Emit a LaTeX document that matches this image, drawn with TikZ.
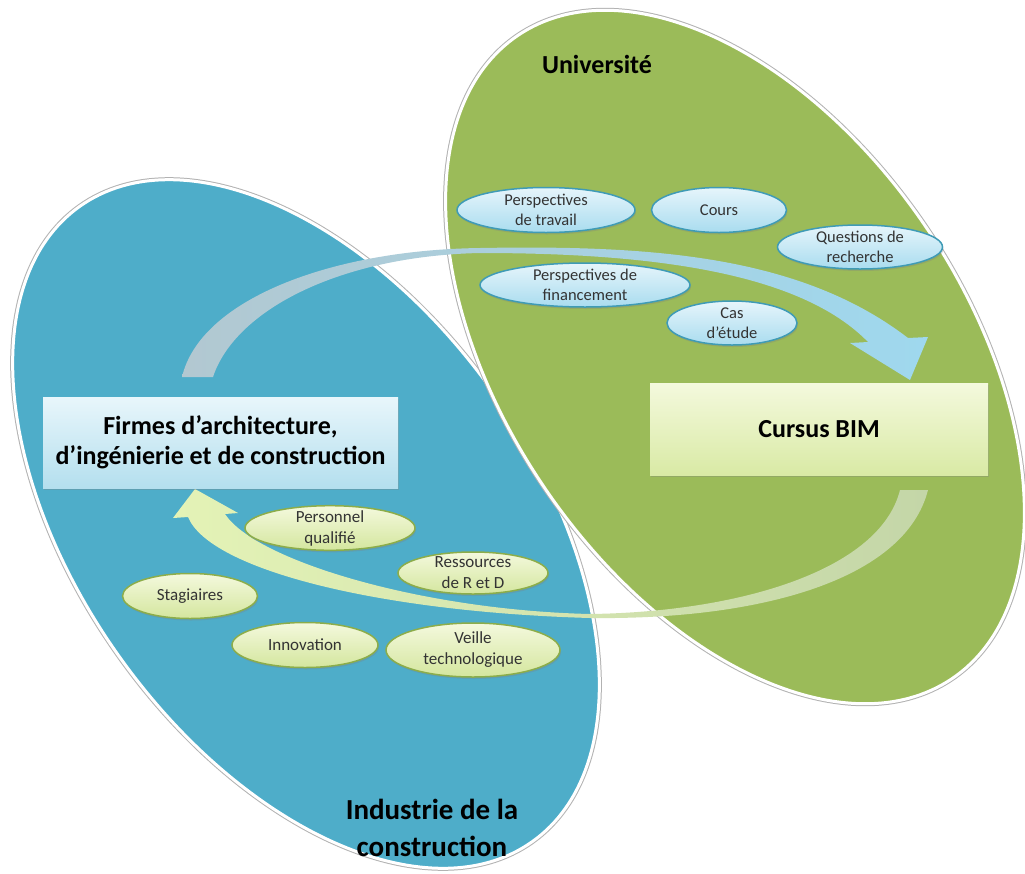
\documentclass[tikz,border=0pt]{standalone}
\usepackage{fontspec}
\setmainfont{Carlito}
\usetikzlibrary{shapes.geometric,shadows,positioning}

\definecolor{indblue}{HTML}{4EADC9}
\definecolor{unigreen}{HTML}{9BBB59}
\definecolor{skytop}{HTML}{E6F5FB}
\definecolor{skybot}{HTML}{A9DCEF}
\definecolor{skyline}{HTML}{3F9BB6}
\definecolor{limetop}{HTML}{F4F9DD}
\definecolor{limebot}{HTML}{D4E69E}
\definecolor{limeline}{HTML}{8CAD4A}
\definecolor{firmtop}{HTML}{E8F6FB}
\definecolor{firmbot}{HTML}{B4DFEE}
\definecolor{cursustop}{HTML}{F4F9DD}
\definecolor{cursusbot}{HTML}{D9EAA5}
\definecolor{fwdtail}{HTML}{B2C8D1}
\definecolor{fwdhead}{HTML}{9FD8EE}
\definecolor{backtail}{HTML}{C4D6A8}
\definecolor{backhead}{HTML}{E4F3B6}

\begin{document}
\begin{tikzpicture}
[
  x=1pt, y=-1pt,
  bubble/.style={ellipse, inner sep=-2pt, align=center, text=black!80, line width=1.5pt,
    drop shadow={opacity=0.3, shadow xshift=1pt, shadow yshift=-2pt},
    font=\fontsize{16.5}{20}\selectfont},
  skybubble/.style={bubble, draw=skyline, top color=skytop, bottom color=skybot},
  limebubble/.style={bubble, draw=limeline, top color=limetop, bottom color=limebot,
    font=\fontsize{17}{21}\selectfont},
  panel/.style={rectangle, align=center, inner sep=4pt,
    drop shadow={opacity=0.3, shadow xshift=1pt, shadow yshift=-2pt},
    font=\fontsize{26}{30}\selectfont\bfseries},
  heading/.style={align=center, font=\fontsize{26}{30}\selectfont\bfseries},
  rim/.style={draw=black!30, line width=5pt},
  lobe/.style={draw=white, line width=3pt}
]
 \useasboundingbox[fill=white] (0,0) rectangle (1025,873);

 % the two domains
 \draw[rim, rotate around={-54.5:(306,524)}] (306,524) ellipse [x radius=390, y radius=229];
 \filldraw[lobe, fill=indblue, rotate around={-54.5:(306,524)}] (306,524) ellipse [x radius=390, y radius=229];
 \draw[rim, rotate around={-56:(735,357)}] (735,357) ellipse [x radius=388, y radius=231];
 \filldraw[lobe, fill=unigreen, rotate around={-56:(735,357)}] (735,357) ellipse [x radius=388, y radius=231];

 \node[heading] (uni) at (597,64) {Université};
 \node[heading, font=\fontsize{29}{37}\selectfont\bfseries] (ind) at (432,828) {Industrie de la\\construction};

 % flows
 \shade[left color=fwdtail, right color=fwdhead]
   (182,377) .. controls (200,300) and (330,250) .. (480,248)
   .. controls (650,245) and (800,255) .. (908,338)
   -- (928,337) -- (910,380) -- (850,343) -- (868,342)
   .. controls (800,272) and (650,253) .. (480,253)
   .. controls (340,256) and (235,310) .. (213,377) -- cycle;
 \shade[left color=backhead, right color=backtail]
   (928,490) .. controls (905,580) and (760,620) .. (590,618)
   .. controls (380,612) and (210,570) .. (188,517)
   -- (173,518) -- (195,489) -- (238,513) -- (225,514)
   .. controls (255,560) and (420,610) .. (590,614)
   .. controls (740,612) and (880,570) .. (900,490) -- cycle;

 % partners
 \node[panel, minimum width=355pt, minimum height=91pt, top color=firmtop, bottom color=firmbot] (firmes) at (220.5,442.5)
   {Firmes d’architecture,\\d’ingénierie et de construction};
 \node[panel, minimum width=338pt, minimum height=92pt, top color=cursustop, bottom color=cursusbot] (cursus) at (819,429)
   {Cursus BIM};

 % university side
 \node[skybubble, minimum width=178pt, minimum height=45pt] (travail) at (546,210) {Perspectives\\de travail};
 \node[skybubble, minimum width=135pt, minimum height=45pt, right=15pt of travail] (cours) {Cours};
 \node[skybubble, minimum width=165pt, minimum height=44pt] (recherche) at (860,247) {Questions de\\recherche};
 \node[skybubble, minimum width=210pt, minimum height=44pt] (financement) at (585,285) {Perspectives de\\financement};
 \node[skybubble, minimum width=130pt, minimum height=44pt] (etude) at (732,323) {Cas\\d’étude};

 % industry side
 \node[limebubble, minimum width=170pt, minimum height=43pt] (personnel) at (330,528) {Personnel\\qualifié};
 \node[limebubble, minimum width=150pt, minimum height=42pt] (ressources) at (473,573) {Ressources\\de R et D};
 \node[limebubble, minimum width=135pt, minimum height=45pt] (stagiaires) at (190,596) {Stagiaires};
 \node[limebubble, minimum width=146pt, minimum height=45pt] (innovation) at (305,645) {Innovation};
 \node[limebubble, minimum width=174pt, minimum height=54pt] (veille) at (473,650) {Veille\\technologique};
\end{tikzpicture}
\end{document}
